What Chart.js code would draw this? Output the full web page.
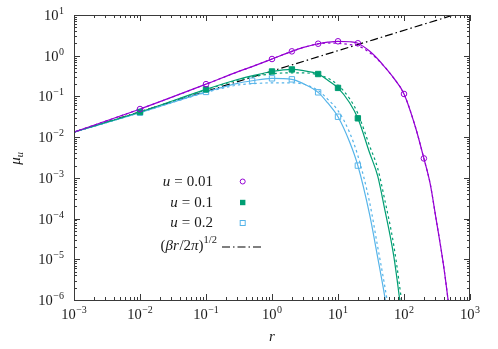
<!DOCTYPE html>
<html>
<head>
<meta charset="utf-8">
<script src="https://cdn.jsdelivr.net/npm/chart.js@4.4.0/dist/chart.umd.min.js"></script>
<style>
  body { margin: 0; background: #fff; }
  canvas { display: block; }
</style>
</head>
<body>
<canvas id="chart" width="498" height="349"></canvas>
<script>
// r values for the curves
const rGrid = [0.001, 0.01, 0.1, 0.3, 0.5, 1, 2, 3, 5, 7, 10, 15, 20, 30, 40, 50, 70, 100, 150, 200, 250, 300, 400, 500];

// u = 0.01
const u001Solid  = [0.0133, 0.049, 0.20, 0.40, 0.54, 0.83, 1.28, 1.6, 1.97, 2.15, 2.26, 2.2, 2.02, 1.3, 0.83, 0.55, 0.28, 0.115, 0.017, 0.003, 7e-4, 1.2e-4, 6.6e-6, 4e-7];
const u001Dashed = [0.0133, 0.049, 0.20, 0.40, 0.54, 0.83, 1.28, 1.6, 1.95, 2.05, 2.02, 1.88, 1.75, 1.2, 0.8, 0.55, 0.28, 0.115, 0.017, 0.003, 7e-4, 1.2e-4, 6.6e-6, 4e-7];
// u = 0.1
const u01Solid  = [0.0133, 0.0414, 0.149, 0.26, 0.32, 0.41, 0.46, 0.43, 0.355, 0.25, 0.162, 0.07, 0.029, 0.0042, 1.1e-3, 2e-4, 1.2e-5, 1.5e-7, null, null, null, null, null, null];
const u01Dashed = [0.0133, 0.041, 0.145, 0.25, 0.30, 0.36, 0.38, 0.38, 0.34, 0.28, 0.19, 0.088, 0.038, 0.0062, 1.7e-3, 3.4e-4, 2.2e-5, 3.5e-7, null, null, null, null, null, null];
// u = 0.2
const u02Solid  = [0.0133, 0.040, 0.129, 0.21, 0.243, 0.278, 0.263, 0.205, 0.126, 0.069, 0.0317, 0.0076, 0.002, 1.3e-4, 1.1e-5, 1.5e-6, 5e-8, null, null, null, null, null, null, null];
const u02Dashed = [0.0133, 0.040, 0.125, 0.19, 0.205, 0.215, 0.215, 0.20, 0.14, 0.085, 0.045, 0.013, 0.0035, 2.6e-4, 2e-5, 2.7e-6, 1e-7, null, null, null, null, null, null, null];

// markers
const rMark001 = [0.01, 0.1, 1, 2, 5, 10, 20, 100, 200];
const mark001  = [0.049, 0.20, 0.83, 1.28, 1.97, 2.26, 2.02, 0.115, 0.003];
const rMark01  = [0.01, 0.1, 1, 2, 5, 10, 20];
const mark01   = [0.0414, 0.149, 0.41, 0.46, 0.355, 0.162, 0.029];
const rMark02  = [0.01, 0.1, 0.5, 1, 2, 5, 10, 20];
const mark02   = [0.040, 0.129, 0.243, 0.278, 0.263, 0.126, 0.0317, 0.002];

// (beta r / 2 pi)^(1/2)
const rAsym  = [0.001, 1000];
const asym   = [0.0133, 13.3];

const xTickExp = [-3, -2, -1, 0, 1, 2, 3];
const yTickExp = [-6, -5, -4, -3, -2, -1, 0, 1];

const PURPLE = '#9400d3';
const GREEN = '#009e73';
const BLUE = '#56b4e9';
const DASHDOT = [8, 3, 1.5, 3];
const FONT = "'Liberation Serif', 'DejaVu Serif', serif";

function pts(xs, ys) {
    return xs.map((v, i) => ({x: v, y: ys[i]}));
}

function lineSet(xs, ys, color, dash) {
    return {
        data: pts(xs, ys),
        borderColor: color,
        borderWidth: 1.2,
        borderDash: dash || [],
        pointRadius: 0,
        fill: false,
        cubicInterpolationMode: 'monotone'
    };
}

function markSet(xs, ys, color, style, filled, radius) {
    return {
        data: pts(xs, ys),
        showLine: false,
        borderColor: color,
        backgroundColor: filled ? color : 'rgba(0,0,0,0)',
        pointStyle: style,
        pointRadius: radius,
        pointBorderWidth: 1
    };
}

function drawPow(ctx, left, base, exp) {
    ctx.font = '14.5px ' + FONT;
    ctx.fillText('10', left, base);
    const w = ctx.measureText('10').width;
    ctx.font = '10px ' + FONT;
    ctx.fillText(String(exp).replace('-', '\u2212'), left + w + 0.5, base - 6);
}

function powWidth(ctx, exp) {
    ctx.font = '14.5px ' + FONT;
    const w = ctx.measureText('10').width;
    ctx.font = '10px ' + FONT;
    return w + 0.5 + ctx.measureText(String(exp).replace('-', '\u2212')).width;
}

// pieces: [text, italic, size, dy]
function drawPieces(ctx, pieces, right, base) {
    let total = 0;
    pieces.forEach(p => {
        ctx.font = (p[1] ? 'italic ' : '') + p[2] + 'px ' + FONT;
        p.w = ctx.measureText(p[0]).width + (p[4] || 0);
        total += p.w;
    });
    let xx = right - total;
    pieces.forEach(p => {
        ctx.font = (p[1] ? 'italic ' : '') + p[2] + 'px ' + FONT;
        ctx.fillText(p[0], xx, base + (p[3] || 0));
        xx += p.w;
    });
}

const decorations = {
    id: 'decorations',
    afterDraw(chart) {
        const {ctx, chartArea: a, scales: {x, y}} = chart;
        ctx.save();
        ctx.strokeStyle = '#3a3a3a';
        ctx.lineWidth = 1;
        ctx.strokeRect(a.left + 0.5, a.top + 0.5, a.right - a.left - 1, a.bottom - a.top);

        // inward ticks on all four sides
        ctx.beginPath();
        for (let d = -3; d <= 3; d++) {
            for (let m = 1; m <= 9; m++) {
                if (d === 3 && m > 1) break;
                const px = Math.round(x.getPixelForValue(m * Math.pow(10, d))) + 0.5;
                const len = m === 1 ? 6 : 3;
                ctx.moveTo(px, a.bottom); ctx.lineTo(px, a.bottom - len);
                ctx.moveTo(px, a.top); ctx.lineTo(px, a.top + len);
            }
        }
        for (let d = -6; d <= 1; d++) {
            for (let m = 1; m <= 9; m++) {
                if (d === 1 && m > 1) break;
                const py = Math.round(y.getPixelForValue(m * Math.pow(10, d))) + 0.5;
                const len = m === 1 ? 6 : 3;
                ctx.moveTo(a.left, py); ctx.lineTo(a.left + len, py);
                ctx.moveTo(a.right, py); ctx.lineTo(a.right - len, py);
            }
        }
        ctx.stroke();

        // tick labels
        ctx.fillStyle = '#1a1a1a';
        ctx.textBaseline = 'alphabetic';
        ctx.textAlign = 'left';
        xTickExp.forEach(e => {
            const px = x.getPixelForValue(Math.pow(10, e));
            drawPow(ctx, px - powWidth(ctx, e) / 2, 319, e);
        });
        yTickExp.forEach(e => {
            const py = y.getPixelForValue(Math.pow(10, e));
            drawPow(ctx, 64 - powWidth(ctx, e), py + 5, e);
        });

        // axis titles
        ctx.font = 'italic 15px ' + FONT;
        ctx.textAlign = 'center';
        ctx.fillText('r', x.getPixelForValue(1), 341);
        ctx.save();
        ctx.translate(20, 158);
        ctx.rotate(-Math.PI / 2);
        ctx.textAlign = 'left';
        ctx.font = 'italic 15px ' + FONT;
        const mw = ctx.measureText('\u03bc').width;
        ctx.fillText('\u03bc', -mw / 2 - 3, 0);
        ctx.font = 'italic 10.5px ' + FONT;
        ctx.fillText('u', mw / 2 - 3, 3);
        ctx.restore();

        // legend
        ctx.textAlign = 'left';
        const rows = [['0.01', 186, 181.5], ['0.1', 206.5, 202.5], ['0.2', 227, 223]];
        rows.forEach(r => {
            drawPieces(ctx, [['u', true, 15, 0, 4], ['=', false, 15, 0, 4], [r[0], false, 15]], 213, r[1]);
        });
        drawPieces(ctx, [['(', false, 15], ['\u03b2', true, 15], ['r', true, 15, 0, 0.5], ['/', false, 15], ['2', false, 15],
            ['\u03c0', true, 15], [')', false, 15], ['1/2', false, 10.5, -6.5]], 217, 249.5);

        const lx = 242.7;
        ctx.lineWidth = 1;
        ctx.strokeStyle = PURPLE;
        ctx.beginPath(); ctx.arc(lx, 181.5, 2.5, 0, Math.PI * 2); ctx.stroke();
        ctx.fillStyle = GREEN;
        ctx.fillRect(lx - 2.7, 202.5 - 2.7, 5.4, 5.4);
        ctx.strokeStyle = BLUE;
        ctx.strokeRect(lx - 2.5, 223 - 2.5, 5, 5);
        ctx.strokeStyle = '#000';
        ctx.lineWidth = 1.2;
        ctx.setLineDash(DASHDOT);
        ctx.beginPath(); ctx.moveTo(222, 247); ctx.lineTo(261, 247); ctx.stroke();
        ctx.restore();
    }
};

new Chart(document.getElementById('chart'), {
    type: 'line',
    data: {
        datasets: [
            markSet(rMark001, mark001, PURPLE, 'circle', false, 2.8),
            markSet(rMark01, mark01, GREEN, 'rect', true, 3.8),
            markSet(rMark02, mark02, BLUE, 'rect', false, 3.8),
            lineSet(rGrid, u001Solid, PURPLE),
            lineSet(rGrid, u01Solid, GREEN),
            lineSet(rGrid, u02Solid, BLUE),
            lineSet(rGrid, u001Dashed, PURPLE, [2.5, 3]),
            lineSet(rGrid, u01Dashed, GREEN, [2.5, 3]),
            lineSet(rGrid, u02Dashed, BLUE, [2.5, 3]),
            lineSet(rAsym, asym, '#000', DASHDOT)
        ]
    },
    options: {
        responsive: false,
        animation: false,
        layout: { padding: { left: 74, right: 28, top: 15, bottom: 49 } },
        plugins: { legend: { display: false }, tooltip: { enabled: false } },
        scales: {
            x: { type: 'logarithmic', min: 1e-3, max: 1e3, display: false },
            y: { type: 'logarithmic', min: 1e-6, max: 10, display: false }
        }
    },
    plugins: [decorations]
});
</script>
</body>
</html>
